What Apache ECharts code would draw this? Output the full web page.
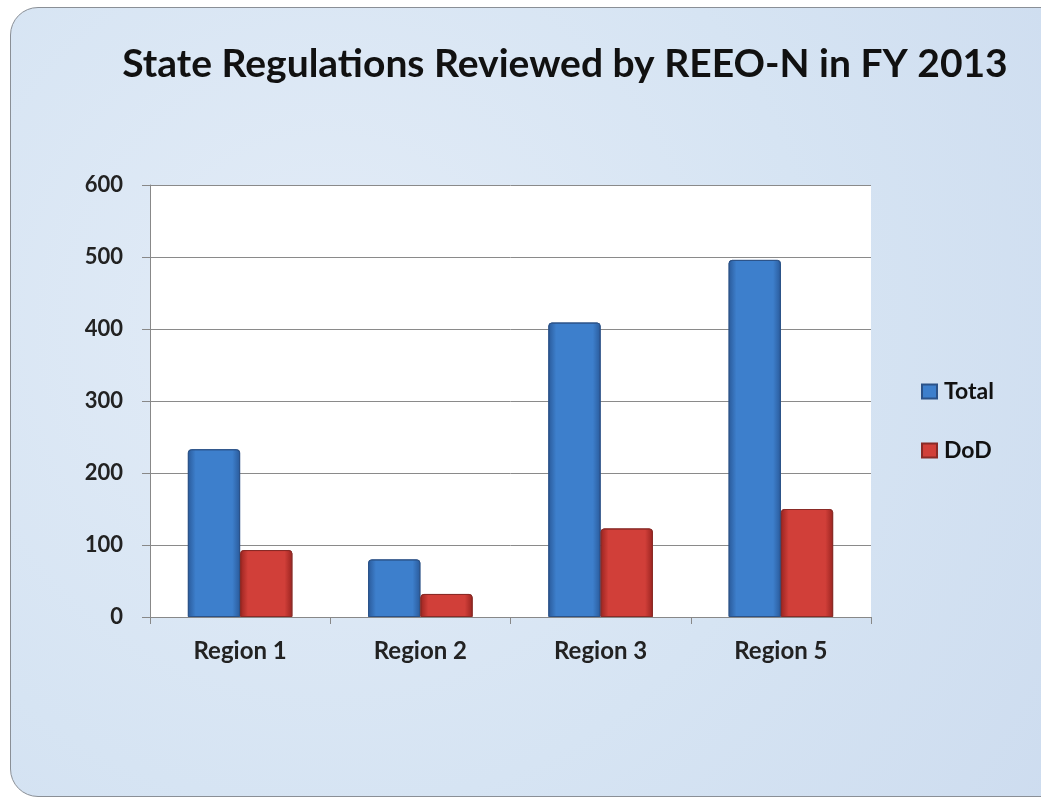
<!DOCTYPE html>
<html>
<head>
<meta charset="utf-8">
<script src="https://cdn.jsdelivr.net/npm/echarts@6/dist/echarts.min.js"></script>
<style>
    html, body {
        margin: 0;
        padding: 0;
        background: #fff;
    }
    .frame {
        position: absolute;
        left: 10px;
        top: 7px;
        width: 1060px;
        height: 788px;
        border: 1.5px solid #8a8f96;
        border-radius: 28px;
        background: radial-gradient(circle at 30% 40%, #e3ecf7 0%, #d6e4f3 55%, #cddcef 100%);
    }
    .chart {
        position: absolute;
        left: 0;
        top: 0;
        width: 1041px;
        height: 804px;
    }
</style>
</head>
<body>
<div class="frame"></div>
<div id="chart" class="chart"></div>
<script>
const categories = ['Region 1', 'Region 2', 'Region 3', 'Region 5']
const totalValues = [233, 80, 409, 496]
const dodValues = [93, 32, 123, 150]
const yTicks = [0, 100, 200, 300, 400, 500, 600]

const font = 'Lato, "Open Sans", sans-serif'

// bevelled-looking bars: dark edges, lighter middle
const barGradient = (edge, mid) => new echarts.graphic.LinearGradient(0, 0, 1, 0, [
    { offset: 0, color: edge },
    { offset: 0.15, color: mid },
    { offset: 0.85, color: mid },
    { offset: 1, color: edge }
])

let eChart = echarts.init(document.getElementById('chart'), null, { renderer: 'canvas' })

let option = {
    backgroundColor: 'transparent',
    title: {
        text: 'State Regulations Reviewed by REEO-N in FY 2013',
        left: 560,
        top: 40,
        textAlign: 'center',
        textStyle: {
            fontFamily: font,
            fontWeight: 'bold',
            fontSize: 39,
            color: '#111'
        }
    },
    legend: {
        orient: 'vertical',
        left: 916,
        top: 375,
        itemGap: 36,
        itemWidth: 15,
        itemHeight: 14,
        icon: 'rect',
        textStyle: {
            fontFamily: font,
            fontWeight: 'bold',
            fontSize: 23,
            color: '#111',
            padding: [0, 0, 0, 2]
        },
        data: ['Total', 'DoD']
    },
    grid: {
        left: 150,
        right: 1041 - 871,
        top: 185,
        bottom: 804 - 617,
        show: true,
        backgroundColor: '#ffffff',
        borderWidth: 0
    },
    xAxis: {
        type: 'category',
        data: categories,
        axisLine: { lineStyle: { color: '#888', width: 1 } },
        axisTick: { show: true, alignWithLabel: false, length: 7, lineStyle: { color: '#888' } },
        axisLabel: {
            fontFamily: font,
            fontWeight: 'bold',
            fontSize: 24,
            color: '#222',
            margin: 22
        }
    },
    yAxis: {
        type: 'value',
        min: yTicks[0],
        max: yTicks[yTicks.length - 1],
        interval: 100,
        axisLine: { show: true, lineStyle: { color: '#888', width: 1 } },
        axisTick: { show: true, length: 8, lineStyle: { color: '#888' } },
        splitLine: { lineStyle: { color: '#8a8a8a', width: 1 } },
        axisLabel: {
            fontFamily: font,
            fontWeight: 'bold',
            fontSize: 22,
            color: '#222',
            margin: 27
        }
    },
    series: [
        {
            name: 'Total',
            type: 'bar',
            data: totalValues,
            barGap: '0%',
            barCategoryGap: '42%',
            itemStyle: {
                color: barGradient('#2a5a9a', '#3d7fcc'),
                borderColor: '#2b5288',
                borderWidth: 1,
                borderRadius: [3, 3, 0, 0]
            }
        },
        {
            name: 'DoD',
            type: 'bar',
            data: dodValues,
            itemStyle: {
                color: barGradient('#9a2420', '#d13f39'),
                borderColor: '#8a2a26',
                borderWidth: 1,
                borderRadius: [3, 3, 0, 0]
            }
        }
    ]
}

eChart.setOption(option)
</script>
</body>
</html>
